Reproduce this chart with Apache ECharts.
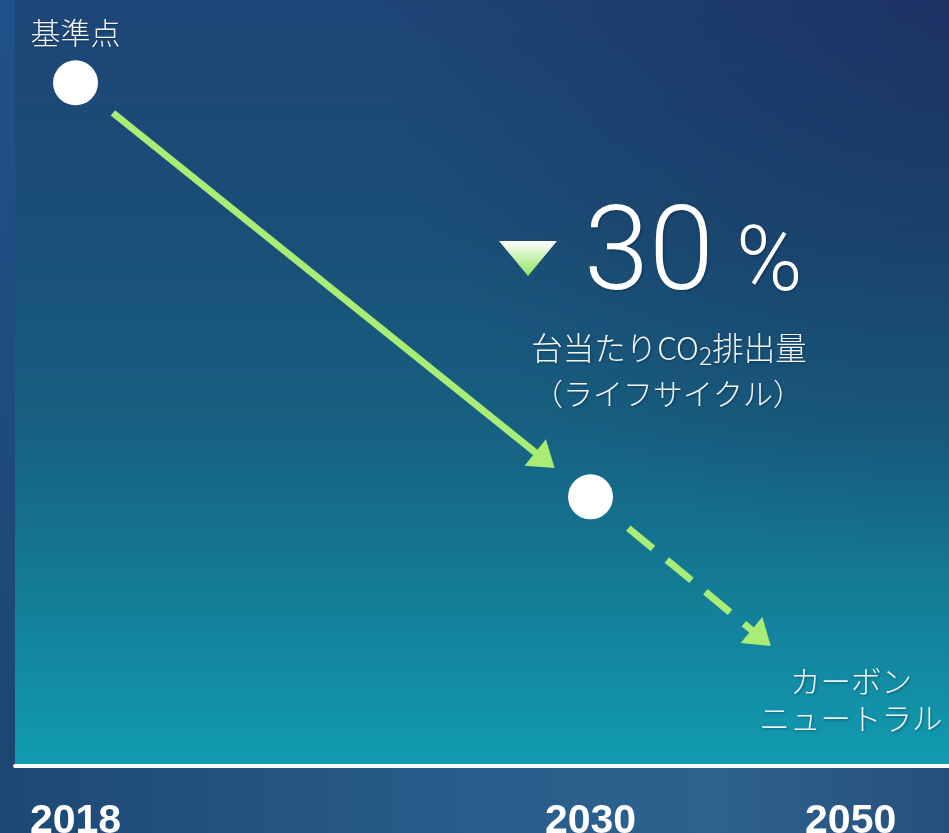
<!DOCTYPE html>
<html><head><meta charset="utf-8">
<script src="https://cdn.jsdelivr.net/npm/echarts@6/dist/echarts.min.js"></script>
<style>html,body{margin:0;padding:0;background:#1e4a78;}#c{width:949px;height:833px;}</style>
</head><body><div id="c"></div>
<script>
// ---- data ----
const years = ['2018', '2030', '2050'];          // tick labels
const yearPos = [0, 2, 3.01];                     // schematic axis positions of the ticks
const pointYearPos = [0, 2];                      // 2018 (基準点), 2030
const co2Index = [100, 70];                       // 台当たりCO2排出量 index (2018 = 100, 2030 = ▼30%)
const pointLabels = ['基準点', ''];
const neutralTrendEnd = [2.70, 59.2];             // direction of dashed trend toward carbon neutral
const reductionValue = '30';
const reductionUnit = '%';
const metricLine1 = ['台当たりCO', '2', '排出量'];
const metricLine2 = '（ライフサイクル）';
const neutralLabel = ['カーボン', 'ニュートラル'];

// ---- styles ----
const GREEN = '#a9ec76';
const JP = '"Noto Sans CJK JP", "Noto Sans", sans-serif';
const arrowStyles = [
  { gapStart: 48, gapEnd: 46, dashed: false },
  { gapStart: 49, gapEnd: 0, dashed: true }
];
const arrowData = [
  [pointYearPos[0], co2Index[0], pointYearPos[1], co2Index[1]],
  [pointYearPos[1], co2Index[1], neutralTrendEnd[0], neutralTrendEnd[1]]
];

const chart = echarts.init(document.getElementById('c'), null, { renderer: 'canvas' });
const LG = echarts.graphic.LinearGradient;
const RG = echarts.graphic.RadialGradient;
const shadow = { textShadowColor: 'rgba(0,20,40,0.45)', textShadowBlur: 3, textShadowOffsetX: 1, textShadowOffsetY: 1 };

chart.setOption({
  animation: false,
  backgroundColor: new LG(0, 0, 0, 1, [
    { offset: 0, color: '#21518a' }, { offset: 1, color: '#1b466f' }
  ]),
  grid: {
    left: 15, right: 0, top: 0, bottom: 67,
    outerBoundsMode: 'none', containLabel: false,
    show: true, borderWidth: 0,
    backgroundColor: new LG(0, 0, 0, 1, [
      { offset: 0, color: '#1e4577' },
      { offset: 0.3, color: '#1a4f77' },
      { offset: 0.55, color: '#175f80' },
      { offset: 0.8, color: '#13809a' },
      { offset: 1, color: '#119cb1' }
    ])
  },
  xAxis: {
    type: 'value', min: -0.235, max: 3.392, z: 10,
    splitLine: { show: false },
    axisTick: { show: false },
    axisLine: { show: true, onZero: false, lineStyle: { color: '#ffffff', width: 4 } },
    axisLabel: {
      customValues: yearPos,
      formatter: v => years[yearPos.indexOf(v)] || '',
      color: '#ffffff', fontSize: 41, fontWeight: 'bold',
      fontFamily: '"Liberation Sans", Arial, sans-serif',
      margin: 35, hideOverlap: false
    }
  },
  yAxis: { type: 'value', min: 50.5, max: 106.0, show: false },
  graphic: [
    { type: 'rect', z: 1, silent: true, shape: { x: 15, y: 0, width: 934, height: 763 },
      style: { fill: new RG(1, 0, 0.75, [
        { offset: 0, color: 'rgba(26,36,84,0.55)' }, { offset: 1, color: 'rgba(26,36,84,0)' }
      ]) } },
    { type: 'rect', z: 0, silent: true, shape: { x: 0, y: 768, width: 949, height: 65 },
      style: { fill: new LG(0, 0, 1, 0, [
        { offset: 0, color: '#1d4874' }, { offset: 0.45, color: '#285b89' },
        { offset: 0.75, color: '#2e628e' }, { offset: 1, color: '#274f7d' }
      ]) } },
    { type: 'polygon', z: 5, shape: { points: [[499, 241], [557, 241], [528, 276]] },
      style: { fill: new LG(0, 0, 0, 1, [
        { offset: 0, color: '#ffffff' }, { offset: 1, color: '#8fe35a' }
      ]) } },
    { type: 'text', z: 5, style: Object.assign({ text: reductionValue, x: 584, y: 260,
      fontSize: 117, fontWeight: 300, fontFamily: 'Roboto, "Open Sans", sans-serif',
      fill: '#ffffff', align: 'left', verticalAlign: 'middle' }, shadow) },
    { type: 'text', z: 5, style: Object.assign({ text: reductionUnit, x: 736, y: 267,
      fontSize: 90, fontWeight: 300, fontFamily: 'Roboto, "Open Sans", sans-serif',
      fill: '#ffffff', align: 'left', verticalAlign: 'middle' }, shadow) },
    { type: 'text', z: 5, style: Object.assign({
      text: '{a|' + metricLine1[0] + '}{b|' + metricLine1[1] + '}{a|' + metricLine1[2] + '}',
      x: 669, y: 348, align: 'center', verticalAlign: 'middle',
      rich: {
        a: { fontSize: 31.5, fontWeight: 300, fontFamily: JP, fill: '#f2f6f9', lineHeight: 40 },
        b: { fontSize: 25, fontWeight: 300, fontFamily: JP, fill: '#f2f6f9', lineHeight: 24, verticalAlign: 'bottom' }
      } }, shadow) },
    { type: 'text', z: 5, style: Object.assign({ text: metricLine2, x: 668, y: 394,
      fontSize: 30, fontWeight: 300, fontFamily: JP, fill: '#f2f6f9',
      align: 'center', verticalAlign: 'middle' }, shadow) },
    { type: 'text', z: 5, style: Object.assign({ text: neutralLabel[0], x: 851, y: 681,
      fontSize: 30.5, fontWeight: 300, fontFamily: JP, fill: '#f2f6f9',
      align: 'center', verticalAlign: 'middle' }, shadow) },
    { type: 'text', z: 5, style: Object.assign({ text: neutralLabel[1], x: 851, y: 718,
      fontSize: 30.5, fontWeight: 300, fontFamily: JP, fill: '#f2f6f9',
      align: 'center', verticalAlign: 'middle' }, shadow) }
  ],
  series: [
    {
      type: 'custom', z: 3, silent: true,
      data: arrowData,
      renderItem: function (params, api) {
        const cfg = arrowStyles[params.dataIndex];
        const p0 = api.coord([api.value(0), api.value(1)]);
        const p1 = api.coord([api.value(2), api.value(3)]);
        const dx = p1[0] - p0[0], dy = p1[1] - p0[1];
        const len = Math.sqrt(dx * dx + dy * dy);
        const ux = dx / len, uy = dy / len, nx = -uy, ny = ux;
        const headLen = 25, headW = 34;
        const s = [p0[0] + ux * cfg.gapStart, p0[1] + uy * cfg.gapStart];
        const tip = [p1[0] - ux * cfg.gapEnd, p1[1] - uy * cfg.gapEnd];
        const base = [tip[0] - ux * headLen, tip[1] - uy * headLen];
        const le = [tip[0] - ux * (headLen - 3), tip[1] - uy * (headLen - 3)];
        return {
          type: 'group',
          children: [
            { type: 'line', shape: { x1: s[0], y1: s[1], x2: le[0], y2: le[1] },
              style: { stroke: GREEN, lineWidth: 7, lineDash: cfg.dashed ? [32, 18] : null } },
            { type: 'polygon', shape: { points: [tip,
                [base[0] + nx * headW / 2, base[1] + ny * headW / 2],
                [base[0] - nx * headW / 2, base[1] - ny * headW / 2]] },
              style: { fill: GREEN } }
          ]
        };
      }
    },
    {
      type: 'scatter', z: 4,
      symbol: 'circle', symbolSize: 45,
      itemStyle: { color: '#ffffff', opacity: 1 },
      data: pointYearPos.map((x, i) => ({
        value: [x, co2Index[i]],
        label: {
          show: pointLabels[i] !== '', formatter: pointLabels[i], position: 'top', distance: 13,
          color: '#f2f6f9', fontSize: 30, fontWeight: 300, fontFamily: JP,
          textShadowColor: 'rgba(0,20,40,0.45)', textShadowBlur: 3, textShadowOffsetX: 1, textShadowOffsetY: 1
        }
      }))
    }
  ]
});
</script>
</body></html>
